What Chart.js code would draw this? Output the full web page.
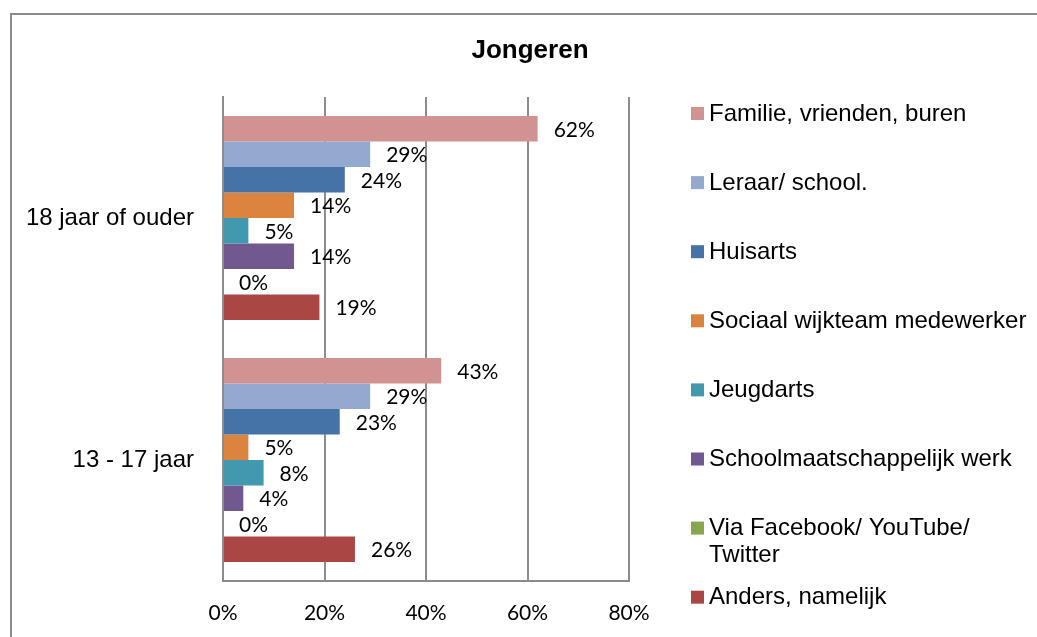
<!DOCTYPE html>
<html>
<head>
<meta charset="utf-8">
<script src="https://cdn.jsdelivr.net/npm/chart.js@4/dist/chart.umd.min.js"></script>
<style>
  html, body { margin: 0; padding: 0; background: #fff; }
  canvas { display: block; }
</style>
</head>
<body>
<canvas id="jongerenChart" width="1037" height="637"></canvas>
<script>
const categories = ['18 jaar of ouder', '13 - 17 jaar'];
const seriesNames = [
    'Familie, vrienden, buren',
    'Leraar/ school.',
    'Huisarts',
    'Sociaal wijkteam medewerker',
    'Jeugdarts',
    'Schoolmaatschappelijk werk',
    'Via Facebook/ YouTube/ Twitter',
    'Anders, namelijk'
];
const familie = [62, 43];
const leraar = [29, 29];
const huisarts = [24, 23];
const sociaal = [14, 5];
const jeugdarts = [5, 8];
const schoolwerk = [14, 4];
const facebook = [0, 0];
const anders = [19, 26];
const seriesColors = ['#D19392', '#93A9CF', '#4572A7', '#DB843D', '#4198AF', '#71588F', '#89A54E', '#AA4643'];
const xTicks = [0, 20, 40, 60, 80];

const seriesValues = [familie, leraar, huisarts, sociaal, jeugdarts, schoolwerk, facebook, anders];
const gridColor = '#8c8c8c';
const numFont = { family: 'Lato', size: 21 };
const textFamily = '"Liberation Sans", Arial, sans-serif';

// frame, title, value labels and the right-hand legend
const decorations = {
    id: 'decorations',
    afterDatasetsDraw(chart) {
        const ctx = chart.ctx;
        ctx.save();
        ctx.font = numFont.size + 'px ' + numFont.family;
        ctx.fillStyle = '#000';
        ctx.textAlign = 'left';
        ctx.textBaseline = 'middle';
        chart.data.datasets.forEach((ds, i) => {
            chart.getDatasetMeta(i).data.forEach((bar, j) => {
                ctx.fillText(ds.data[j] + '%', bar.x + 16, bar.y + 1);
            });
        });
        ctx.restore();
    },
    afterDraw(chart) {
        const ctx = chart.ctx;
        ctx.save();
        ctx.strokeStyle = gridColor;
        ctx.lineWidth = 2;
        ctx.strokeRect(11, 14, 1100, 700);

        ctx.fillStyle = '#000';
        ctx.font = 'bold 26px ' + textFamily;
        ctx.textAlign = 'center';
        ctx.textBaseline = 'alphabetic';
        ctx.fillText('Jongeren', 530, 58);

        ctx.font = '24px ' + textFamily;
        ctx.textAlign = 'left';
        const maxW = 323;
        chart.data.datasets.forEach((ds, i) => {
            const cy = 113.5 + 69.1 * i;
            ctx.fillStyle = ds.backgroundColor;
            ctx.fillRect(691, cy - 6.5, 13, 13);
            ctx.fillStyle = '#000';
            const words = ds.label.split(' ');
            const lines = [];
            let line = '';
            words.forEach(w => {
                const test = line ? line + ' ' + w : w;
                if (line && ctx.measureText(test).width > maxW) {
                    lines.push(line);
                    line = w;
                } else {
                    line = test;
                }
            });
            lines.push(line);
            lines.forEach((l, k) => ctx.fillText(l, 709, cy + 7 + k * 27));
        });
        ctx.restore();
    }
};

new Chart(document.getElementById('jongerenChart'), {
    type: 'bar',
    data: {
        labels: categories,
        datasets: seriesNames.map((name, i) => ({
            label: name,
            data: seriesValues[i],
            backgroundColor: seriesColors[i],
            borderWidth: 0,
            categoryPercentage: 0.843,
            barPercentage: 1
        }))
    },
    options: {
        indexAxis: 'y',
        responsive: false,
        animation: false,
        layout: { padding: { top: 97, right: 408, left: 0, bottom: 0 } },
        plugins: {
            legend: { display: false },
            title: { display: false },
            tooltip: { enabled: false }
        },
        scales: {
            x: {
                min: 0,
                max: 80,
                afterBuildTicks: scale => { scale.ticks = xTicks.map(v => ({ value: v })); },
                afterFit: scale => { scale.height = 56; },
                ticks: {
                    callback: v => v + '%',
                    font: numFont,
                    color: '#000',
                    padding: 20,
                    maxRotation: 0,
                    autoSkip: false
                },
                grid: { color: gridColor, lineWidth: 2, drawTicks: false },
                border: { display: true, color: gridColor, width: 2 }
            },
            y: {
                afterFit: scale => { scale.width = 223; },
                ticks: {
                    font: { family: textFamily, size: 24 },
                    color: '#000',
                    padding: 29
                },
                grid: { display: false, drawTicks: false },
                border: { display: true, color: gridColor, width: 2 }
            }
        }
    },
    plugins: [decorations]
});
</script>
</body>
</html>
